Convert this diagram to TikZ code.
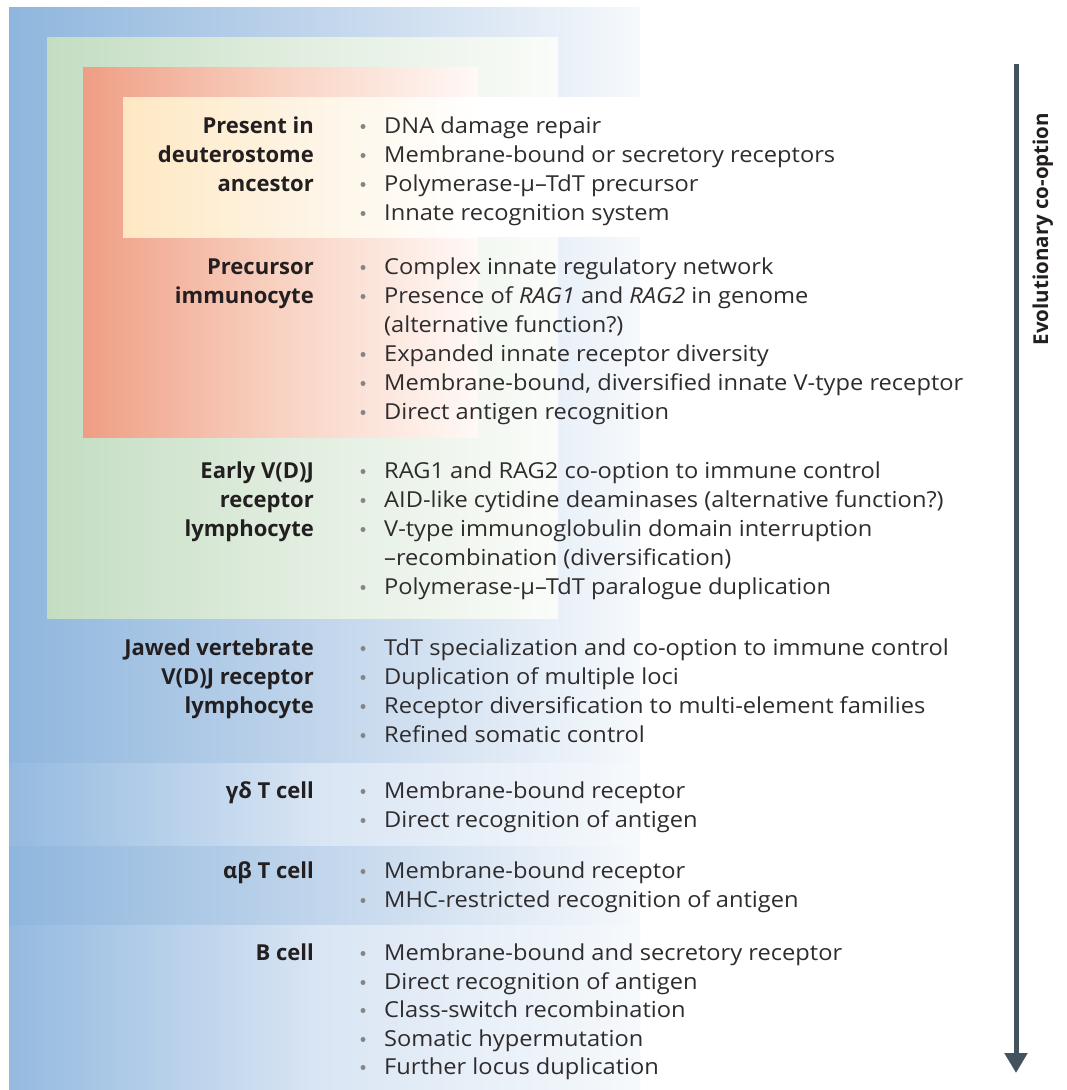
\documentclass[tikz,border=0pt]{standalone}
\usepackage{fontspec}
\setmainfont{Open Sans}
\newfontfamily\bodyfont{Open Sans}[FakeStretch=1.075]
\usetikzlibrary{arrows.meta}

\definecolor{blueA}{HTML}{8EB6DD}
\definecolor{blueB}{HTML}{C2D6EC}
\definecolor{blueZ}{HTML}{F6F9FC}
\definecolor{blueLA}{HTML}{94BAE0}
\definecolor{blueLB}{HTML}{DAE6F4}
\definecolor{greenA}{HTML}{C3DDC2}
\definecolor{greenB}{HTML}{E2EEE0}
\definecolor{greenZ}{HTML}{FAFCF9}
\definecolor{orangeA}{HTML}{EF9E84}
\definecolor{orangeB}{HTML}{F8D2C2}
\definecolor{orangeZ}{HTML}{FFF9F6}
\definecolor{creamA}{HTML}{FEE8C2}
\definecolor{creamB}{HTML}{FEF4E4}
\definecolor{ink}{HTML}{231F20}
\definecolor{bodyink}{HTML}{2F2C2D}
\definecolor{dotc}{HTML}{858585}
\definecolor{arrowc}{HTML}{44545F}

\tikzset{
  lbl/.style={font=\fontsize{22}{29}\selectfont\bfseries, text=ink, anchor=base east, inner sep=0pt},
  itm/.style={font=\bodyfont\fontsize{22}{29}\selectfont, text=bodyink, anchor=base west, inner sep=0pt},
  dot/.style={fill=dotc},
}

% bulleted line: name, baseline, text
\newcommand\bline[3]{%
  \fill[dot] (363,#2-6.5) circle (2.5);
  \node[itm] (#1) at (384,#2) {#3};}
% continuation line without a bullet
\newcommand\contline[3]{\node[itm] (#1) at (384,#2) {#3};}

\begin{document}
\begin{tikzpicture}[x=1pt,y=-1pt]
\useasboundingbox (0,0) rectangle (1066,1090);
\fill[white] (0,0) rectangle (1066,1090);

% nested evolutionary stages
\shade[left color=blueA, right color=blueZ, middle color=blueB] (9,7) rectangle (640,1090);
\shade[left color=blueLA, right color=blueZ, middle color=blueLB] (9,763) rectangle (640,845);
\shade[left color=blueLA, right color=blueZ, middle color=blueLB] (9,925) rectangle (640,1090);
\shade[left color=greenA, right color=greenZ, middle color=greenB] (47,37) rectangle (558,618);
\shade[left color=orangeA, right color=orangeZ, middle color=orangeB] (83,67) rectangle (478,437);
\fill[white] (123,97) rectangle (645,237);
\shade[left color=creamA, right color=white, middle color=creamB] (123,97) rectangle (478,237);

% Present in deuterostome ancestor
\node[lbl] (l1a) at (314,133) {Present in};
\node[lbl] (l1b) at (314,162) {deuterostome};
\node[lbl] (l1c) at (314,191) {ancestor};
\bline{i1a}{133}{DNA damage repair}
\bline{i1b}{162}{Membrane-bound or secretory receptors}
\bline{i1c}{191}{Polymerase-μ–TdT precursor}
\bline{i1d}{220}{Innate recognition system}

% Precursor immunocyte
\node[lbl] (l2a) at (314,274) {Precursor};
\node[lbl] (l2b) at (314,303) {immunocyte};
\bline{i2a}{274}{Complex innate regulatory network}
\bline{i2b}{303}{Presence of \textit{RAG1} and \textit{RAG2} in genome}
\contline{i2c}{332}{(alternative function?)}
\bline{i2d}{361}{Expanded innate receptor diversity}
\bline{i2e}{390}{Membrane-bound, diversified innate V-type receptor}
\bline{i2f}{419}{Direct antigen recognition}

% Early V(D)J receptor lymphocyte
\node[lbl] (l3a) at (314,478) {Early V(D)J};
\node[lbl] (l3b) at (314,507) {receptor};
\node[lbl] (l3c) at (314,536) {lymphocyte};
\bline{i3a}{478}{RAG1 and RAG2 co-option to immune control}
\bline{i3b}{507}{AID-like cytidine deaminases (alternative function?)}
\bline{i3c}{536}{V-type immunoglobulin domain interruption}
\contline{i3d}{565}{–recombination (diversification)}
\bline{i3e}{594}{Polymerase-μ–TdT paralogue duplication}

% Jawed vertebrate V(D)J receptor lymphocyte
\node[lbl] (l4a) at (314,655) {Jawed vertebrate};
\node[lbl] (l4b) at (314,684) {V(D)J receptor};
\node[lbl] (l4c) at (314,713) {lymphocyte};
\bline{i4a}{655}{TdT specialization and co-option to immune control}
\bline{i4b}{684}{Duplication of multiple loci}
\bline{i4c}{713}{Receptor diversification to multi-element families}
\bline{i4d}{742}{Refined somatic control}

% gamma-delta T cell
\node[lbl] (l5a) at (314,798) {γδ T cell};
\bline{i5a}{798}{Membrane-bound receptor}
\bline{i5b}{827}{Direct recognition of antigen}

% alpha-beta T cell
\node[lbl] (l6a) at (314,878) {αβ T cell};
\bline{i6a}{878}{Membrane-bound receptor}
\bline{i6b}{907}{MHC-restricted recognition of antigen}

% B cell
\node[lbl] (l7a) at (314,960) {B cell};
\bline{i7a}{960}{Membrane-bound and secretory receptor}
\bline{i7b}{989}{Direct recognition of antigen}
\bline{i7c}{1017}{Class-switch recombination}
\bline{i7d}{1046}{Somatic hypermutation}
\bline{i7e}{1074}{Further locus duplication}

% evolutionary direction
\coordinate (atop) at (1016,64);
\coordinate (abot) at (1016,1073);
\draw[arrowc, line width=5pt, -{Triangle[width=22pt,length=20pt]}] (atop) -- (abot);
\node[rotate=90, anchor=base, text=ink, inner sep=0pt] (evo) at (1048,229)
  {\fontsize{20.5}{25}\selectfont\bfseries Evolutionary co-option};
\end{tikzpicture}
\end{document}
